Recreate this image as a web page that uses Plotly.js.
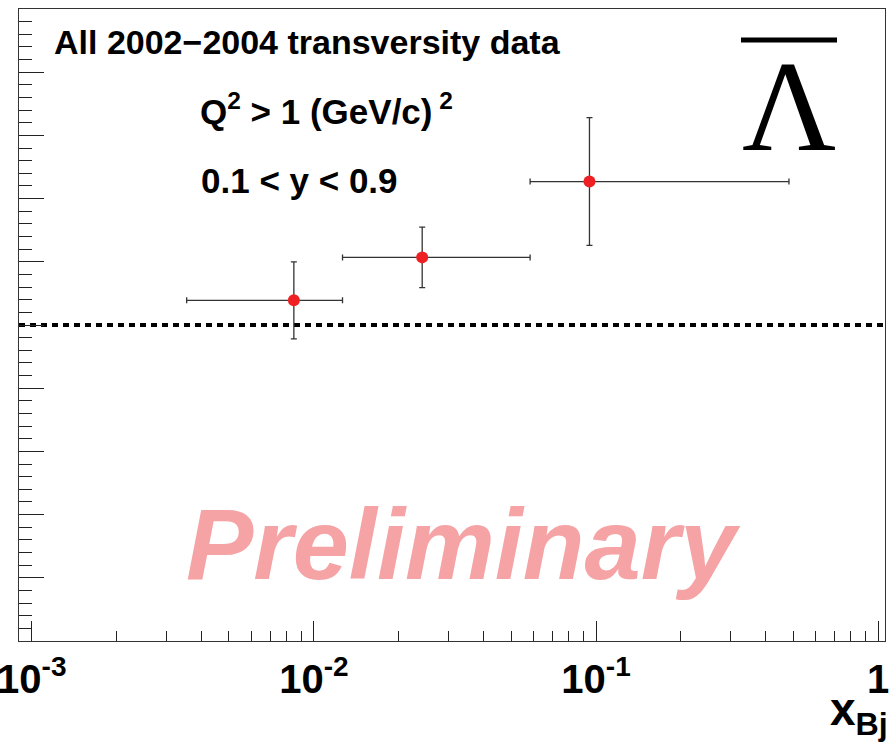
<!DOCTYPE html>
<html>
<head>
<meta charset="utf-8">
<script src="https://cdn.plot.ly/plotly-3.0.1.min.js"></script>
<style>
  html, body { margin: 0; padding: 0; background: #ffffff; }
  #chart { width: 892px; height: 752px; }
</style>
</head>
<body>
<div id="chart"></div>
<script>
// ---- data ----
const xCenters = [0.00849, 0.0242, 0.0948];       // x_Bj of each point
const xBinLow  = [0.00354, 0.01263, 0.0584];      // left end of horizontal bar
const xBinHigh = [0.01263, 0.0584, 0.483];        // right end of horizontal bar
const yValues  = [0.039, 0.107, 0.227];           // measured value (axis is unlabeled)
const yErrors  = [0.061, 0.048, 0.101];           // symmetric vertical error
const xTickVals = [0.001, 0.01, 0.1, 1];
const xTickText = ['10<sup>-3</sup>', '10<sup>-2</sup>', '10<sup>-1</sup>', '1'];

// minor tick positions 2..9 of each decade
const minorVals = [];
[0.001, 0.01, 0.1].forEach(d => { for (let k = 2; k <= 9; k++) minorVals.push(d * k); });

const errPlus  = xCenters.map((x, i) => xBinHigh[i] - x);
const errMinus = xCenters.map((x, i) => x - xBinLow[i]);

const trace = {
  type: 'scatter',
  mode: 'markers',
  x: xCenters,
  y: yValues,
  marker: { color: '#ee2024', size: 12 },
  error_x: { type: 'data', symmetric: false, array: errPlus, arrayminus: errMinus,
             color: '#333333', thickness: 1.3, width: 3 },
  error_y: { type: 'data', array: yErrors, color: '#333333', thickness: 1.3, width: 3 },
  hoverinfo: 'x+y',
  showlegend: false
};

const sans = 'Liberation Sans, Arial, sans-serif';

const layout = {
  width: 892, height: 752,
  margin: { l: 19, r: 7, t: 9, b: 111 },
  paper_bgcolor: '#ffffff',
  plot_bgcolor: '#ffffff',
  showlegend: false,
  xaxis: {
    type: 'log',
    range: [-3.0454, 0.0244],
    tickmode: 'array',
    tickvals: xTickVals,
    ticktext: xTickText,
    ticks: 'inside', ticklen: 20, tickwidth: 1, tickcolor: '#222',
    minor: { tickmode: 'array', tickvals: minorVals, ticks: 'inside', ticklen: 10, tickwidth: 1, tickcolor: '#222', showgrid: false },
    showgrid: false, zeroline: false,
    showline: true, linecolor: '#333', linewidth: 1, mirror: true,
    tickfont: { family: sans, size: 40, color: '#000', weight: 'bold' },
    ticklabeloverflow: 'allow',
    ticklabelstandoff: 3
  },
  yaxis: {
    range: [-0.5, 0.5],
    tickmode: 'linear', tick0: 0, dtick: 0.1,
    ticks: 'inside', ticklen: 25, tickwidth: 1, tickcolor: '#222',
    minor: { dtick: 0.02, ticks: 'inside', ticklen: 13, tickwidth: 1, tickcolor: '#222', showgrid: false },
    showticklabels: false,
    showgrid: false, zeroline: false,
    showline: true, linecolor: '#333', linewidth: 1, mirror: true
  },
  shapes: [
    { type: 'line', xref: 'paper', x0: 0, x1: 1, yref: 'y', y0: 0, y1: 0,
      line: { color: '#000', width: 4, dash: '6px,5px' }, layer: 'below' },
    { type: 'line', xref: 'paper', x0: 0.8337, x1: 0.9446, yref: 'paper', y0: 0.951, y1: 0.951,
      line: { color: '#000', width: 5 } }
  ],
  annotations: [
    { xref: 'paper', yref: 'paper', x: 0.038, y: 0.948, xanchor: 'left', yanchor: 'middle', showarrow: false,
      text: 'All 2002\u22122004 transversity data', font: { family: sans, size: 34, color: '#000', weight: 'bold' } },
    { xref: 'paper', yref: 'paper', x: 0.207, y: 0.841, xanchor: 'left', yanchor: 'middle', showarrow: false,
      text: 'Q<sup>2</sup> > 1 (GeV/c)<sup> 2</sup>', font: { family: sans, size: 35, color: '#000', weight: 'bold' } },
    { xref: 'paper', yref: 'paper', x: 0.208, y: 0.728, xanchor: 'left', yanchor: 'middle', showarrow: false,
      text: '0.1 < y < 0.9', font: { family: sans, size: 35, color: '#000', weight: 'bold' } },
    { xref: 'paper', yref: 'paper', x: 0.889, y: 0.846, xanchor: 'center', yanchor: 'middle', showarrow: false,
      text: '\u039B', font: { family: 'Liberation Serif, Times New Roman, serif', size: 130, color: '#000' } },
    { xref: 'paper', yref: 'paper', x: 0.19, y: 0.1535, xanchor: 'left', yanchor: 'middle', showarrow: false,
      text: '<i>Preliminary</i>', font: { family: sans, size: 101, color: '#f5a3a5', weight: 'bold' } },
    { xref: 'paper', yref: 'paper', x: 1.006, y: -0.063, xanchor: 'right', yanchor: 'top', showarrow: false,
      text: 'x<sub>Bj</sub>', font: { family: sans, size: 46, color: '#000', weight: 'bold' } }
  ]
};

Plotly.newPlot('chart', [trace], layout, { displayModeBar: false, staticPlot: true });
</script>
</body>
</html>
